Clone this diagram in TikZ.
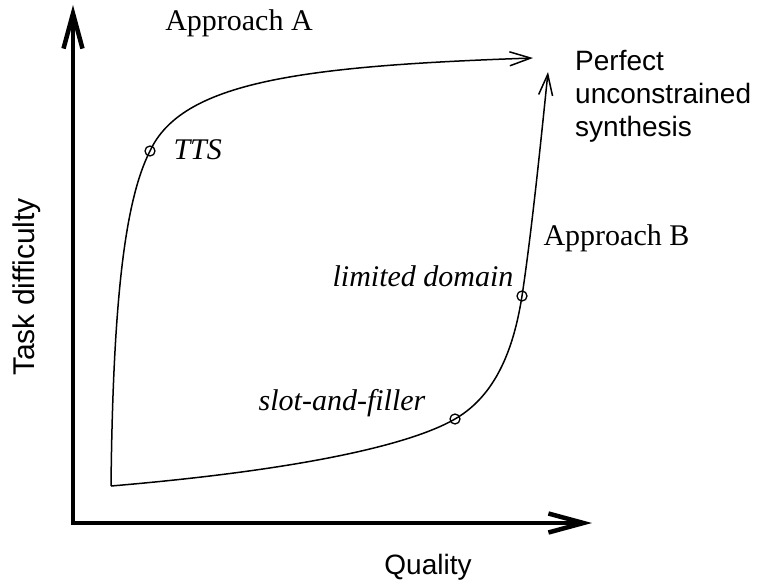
\documentclass[tikz,border=0pt]{standalone}
\usepackage{fontspec}
\setmainfont{Liberation Serif}
\setsansfont{Liberation Sans}
\usetikzlibrary{arrows.meta}
\begin{document}
\begin{tikzpicture}[x=1pt,y=-1pt,
  axis/.style={line width=4pt,-{Straight Barb[length=35pt,width=19pt,line width=4.5pt]}},
  curvearrow/.style={line width=1.5pt,-{Straight Barb[length=21pt,width=14pt,line width=1.5pt]}},
  dotmark/.style={circle,draw,line width=1.3pt,minimum size=10pt,inner sep=0pt},
  serif/.style={font=\fontsize{30}{34}\selectfont},
  serifit/.style={font=\fontsize{30}{34}\selectfont\itshape},
  sans/.style={font=\sffamily\fontsize{28}{33}\selectfont},
  sansbig/.style={font=\sffamily\fontsize{30}{34}\selectfont}]
\useasboundingbox (0,0) rectangle (763,586);
% axes
\coordinate (ytop) at (73,5);
\coordinate (xend) at (592,523);
\draw[axis,line cap=butt] (73,525) -- (ytop);
\draw[axis,line cap=butt] (71,523) -- (xend);
% points
\coordinate (S) at (111,486);
\coordinate (tts) at (150,151);
\coordinate (sf) at (455,419);
\coordinate (ld) at (522,296);
\coordinate (endA) at (533,58);
\coordinate (endB) at (548,72);
% curve A
\draw[curvearrow] (S) .. controls (113,300) and (125,200) .. (tts)
  .. controls (182,82) and (300,66) .. (endA);
% curve B
\draw[curvearrow] (S) .. controls (300,470) and (410,445) .. (sf)
  .. controls (500,393) and (515,340) .. (ld)
  .. controls (532,230) and (542,130) .. (endB);
\node[dotmark] (mtts) at (tts) {};
\node[dotmark] (msf) at (sf) {};
\node[dotmark] (mld) at (ld) {};
% labels
\node[serif] (appA) at (239,23) {Approach A};
\node[serifit,anchor=west] (lTTS) at (170,150) {TTS};
\node[serif,anchor=west] (appB) at (540,238) {Approach B};
\node[serifit] (lld) at (423,276) {limited domain};
\node[serifit] (lsf) at (342,403) {slot-and-filler};
\node[sans,anchor=north west,align=left,inner sep=0pt] (perf) at (575,50) {Perfect\\unconstrained\\synthesis};
\node[sansbig,rotate=90] (yl) at (27,287) {Task difficulty};
\node[sans] (xl) at (428,567) {Quality};
\end{tikzpicture}
\end{document}
